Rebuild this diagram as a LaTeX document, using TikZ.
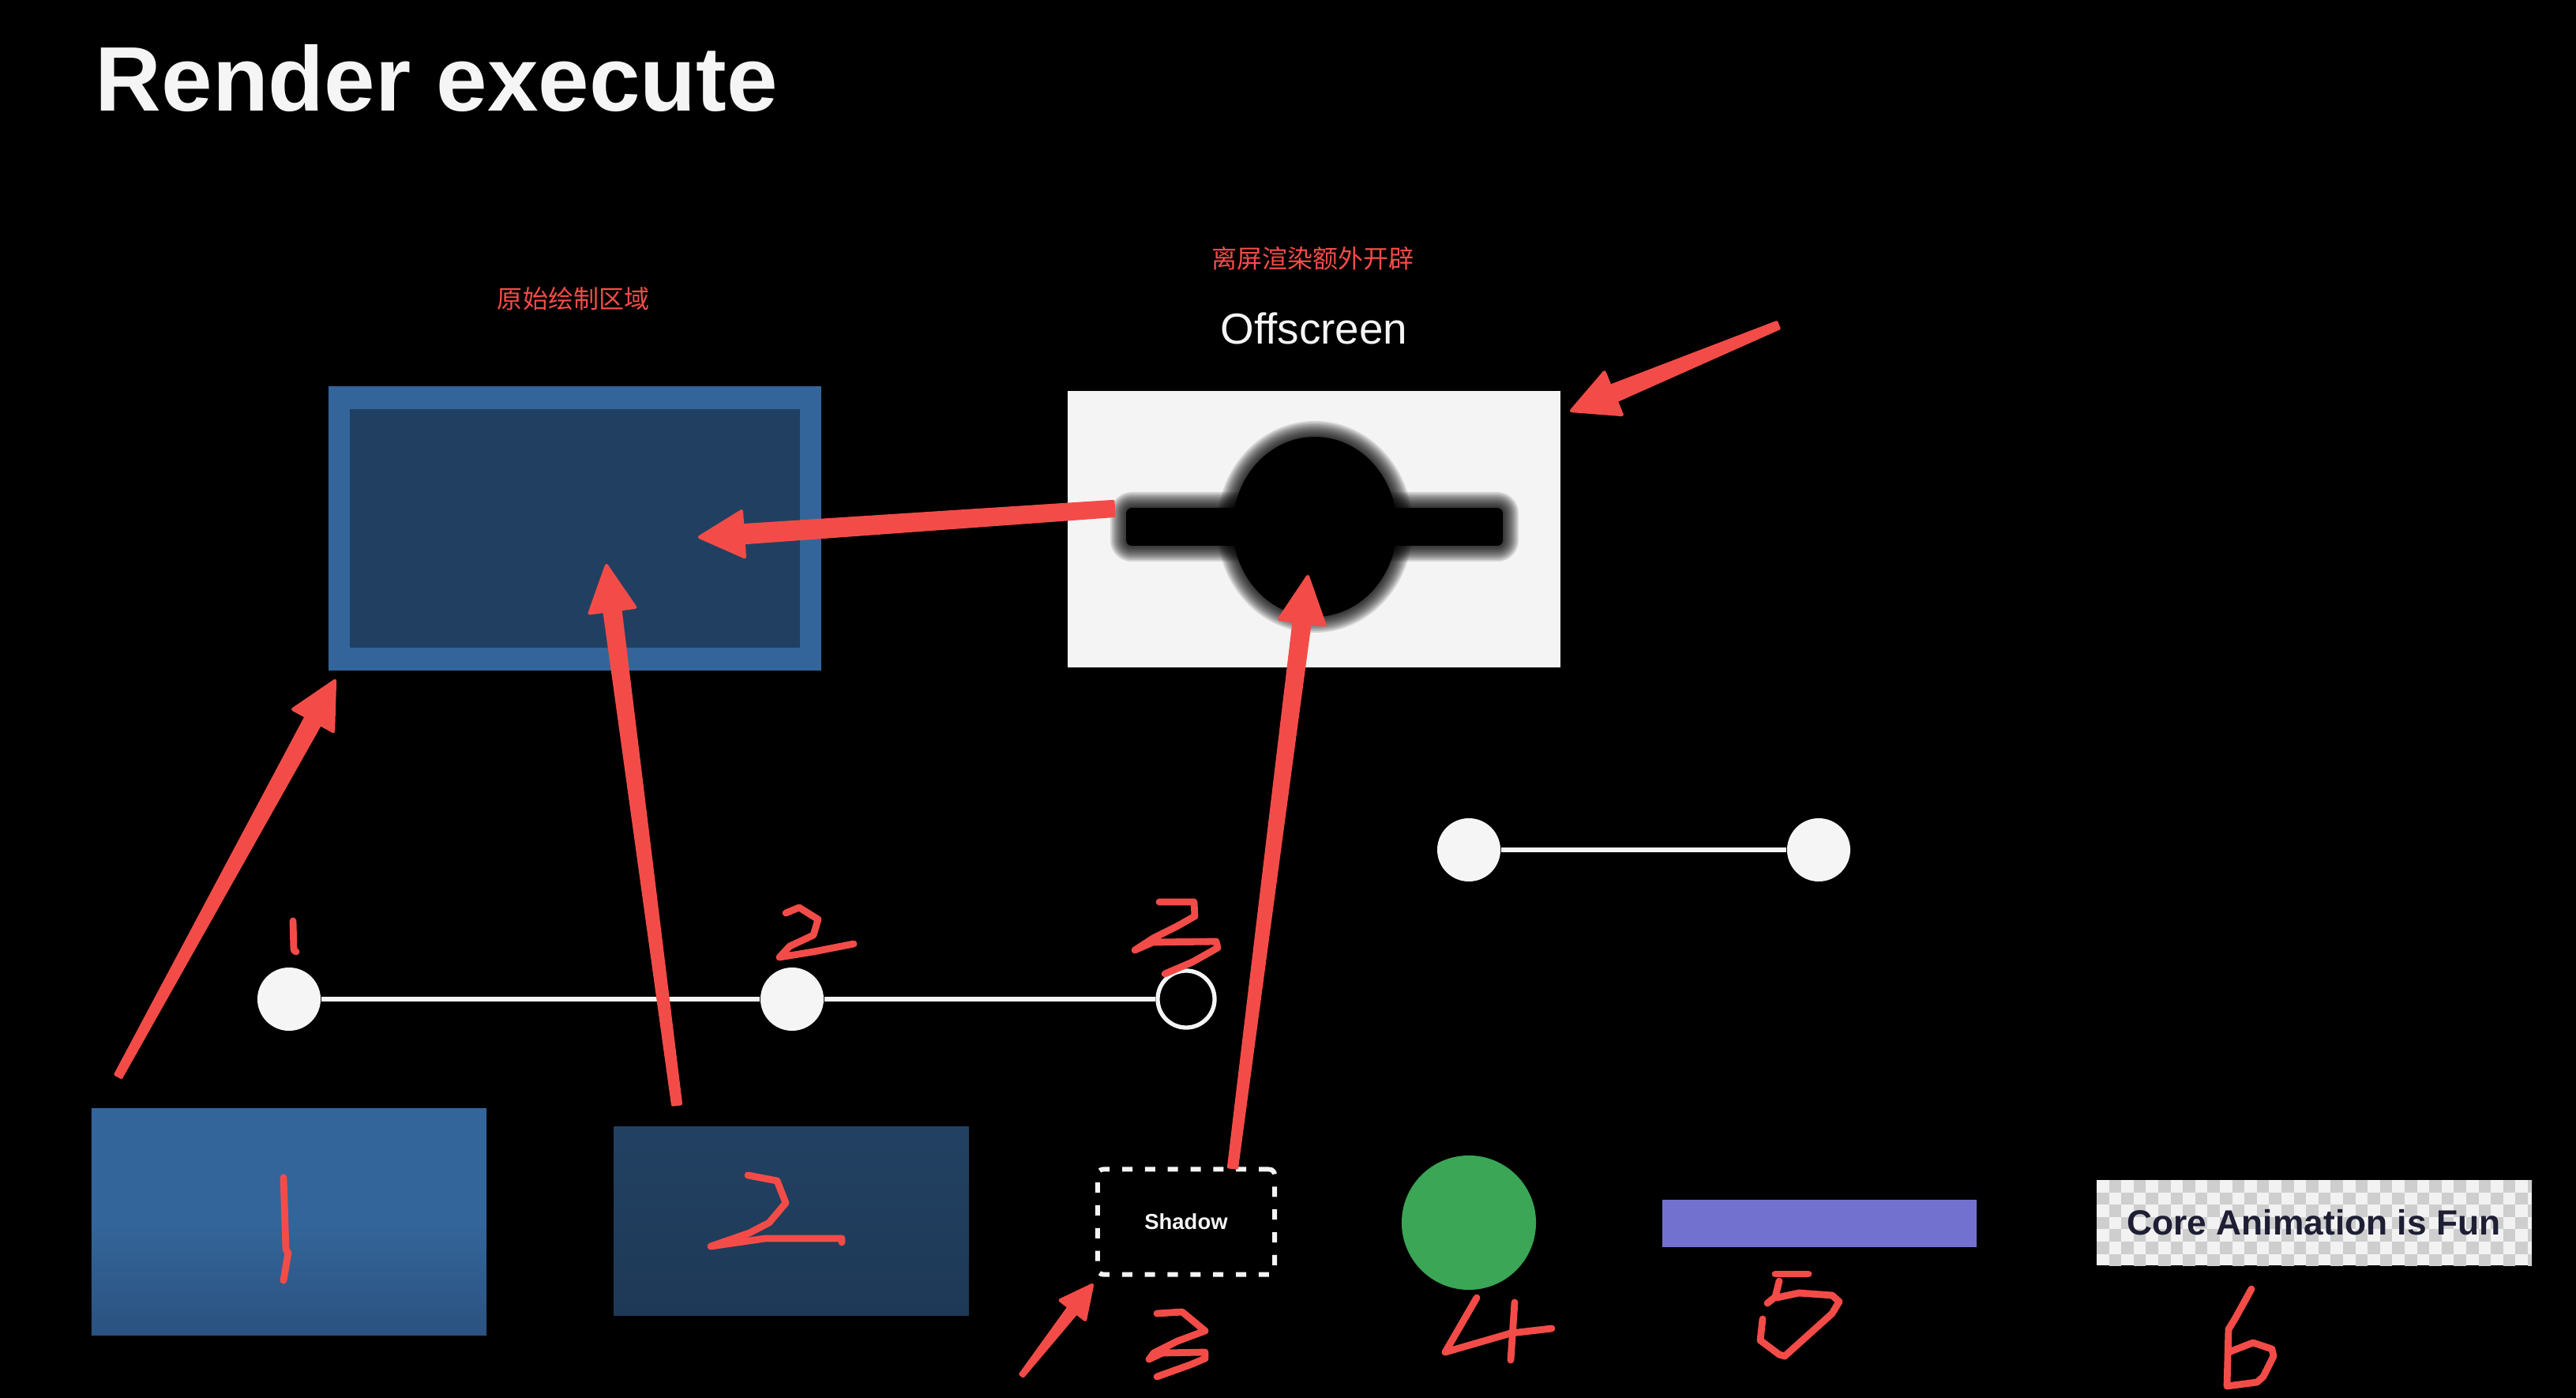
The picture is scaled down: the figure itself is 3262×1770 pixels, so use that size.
\documentclass[tikz,border=0pt]{standalone}
\usepackage{fontspec}
\setmainfont{Liberation Sans}
\newfontfamily\cjk{Noto Sans CJK SC}
\usetikzlibrary{calc}
\definecolor{redmark}{RGB}{243,76,72}
\definecolor{outerblue}{RGB}{52,101,154}
\definecolor{innerblue}{RGB}{33,64,97}
\definecolor{boxonetop}{RGB}{52,101,154}
\definecolor{boxonebot}{RGB}{43,82,128}
\definecolor{boxtwotop}{RGB}{34,65,98}
\definecolor{boxtwobot}{RGB}{30,57,87}
\definecolor{offwhite}{RGB}{244,244,244}
\definecolor{dotwhite}{RGB}{245,245,245}
\definecolor{greendot}{RGB}{58,166,86}
\definecolor{purplebar}{RGB}{115,113,207}
\definecolor{chkgray}{RGB}{206,206,206}
\definecolor{chkwhite}{RGB}{242,242,242}
\definecolor{navytext}{RGB}{30,30,52}
\tikzset{
  hand/.style={draw=redmark, line width=2.5pt, line cap=round, line join=round},
  dot/.style={circle, fill=dotwhite, inner sep=0pt, minimum size=0.80cm},
  ring/.style={circle, draw=dotwhite, line width=1.5pt, inner sep=0pt, minimum size=0.72cm},
  tline/.style={draw=dotwhite, line width=1.5pt},
  plainbox/.style={rectangle, inner sep=0pt},
}
% tail, tip, tail half width, neck half width, head half width, head length
\newcommand{\mkarrow}[6]{%
  \coordinate (aN) at ($(#2)!#6!(#1)$);
  \fill[redmark, draw=redmark, line width=1.2pt, line join=round]
    ($(#1)!#3!90:(#2)$) -- ($(aN)!#4!90:(#2)$) -- ($(aN)!#5!90:(#2)$) -- (#2)
    -- ($(aN)!#5!-90:(#2)$) -- ($(aN)!#4!-90:(#2)$) -- ($(#1)!#3!-90:(#2)$) -- cycle;}
\begin{document}
\begin{tikzpicture}[x=0.01cm, y=-0.01cm]
\fill[black] (0,0) rectangle (3262,1770);
\useasboundingbox (0,0) rectangle (3262,1770);

% title
\node[anchor=base west, inner sep=0pt, text=dotwhite, font=\bfseries\fontsize{33}{40}\selectfont] (title) at (120,141) {Render execute};

% labels
\node[inner sep=0pt, text=redmark, font=\cjk\fontsize{9.1}{11}\selectfont] (lblorig) at (726,378) {原始绘制区域};
\node[inner sep=0pt, text=redmark, font=\cjk\fontsize{9.1}{11}\selectfont] (lbloff) at (1662,327) {离屏渲染额外开辟};
\node[anchor=base, inner sep=0pt, text=dotwhite, font=\fontsize{15.6}{18}\selectfont] (offtitle) at (1664,436) {Offscreen};

% original drawing area
\node[plainbox, fill=outerblue, minimum width=6.24cm, minimum height=3.60cm] (orig) at (728,669) {};
\node[plainbox, fill=innerblue, minimum width=5.70cm, minimum height=3.02cm] (originner) at (728,669) {};

% offscreen box with blurred shape
\node[plainbox, fill=offwhite, minimum width=6.24cm, minimum height=3.50cm] (off) at (1664,670) {};
\foreach \d in {20,18,...,2}{
  \pgfmathsetmacro\rc{\d*0.2845+2}
  \fill[black, fill opacity=0.13] (1665,667) ellipse [x radius=104+\d, y radius=114+\d];
  \fill[black, fill opacity=0.13, rounded corners=\rc pt] (1426-\d,643-\d) rectangle (1903+\d,691+\d);
}
\fill[black] (1665,667) ellipse [x radius=104, y radius=114];
\fill[black, rounded corners=2pt] (1426,643) rectangle (1903,691);

% timeline 1
\node[dot] (t1) at (366,1265) {};
\node[dot] (t2) at (1003,1265) {};
\node[ring] (t3) at (1502,1265) {};
\draw[tline] (t1) -- (t2) -- (t3);

% timeline 2
\node[dot] (u1) at (1860,1076) {};
\node[dot] (u2) at (2303,1076) {};
\draw[tline] (u1) -- (u2);

% bottom row
\node[plainbox, top color=boxonetop, bottom color=boxonebot, middle color=boxonetop, minimum width=5.00cm, minimum height=2.87cm] (box1) at (366,1547) {};
\node[plainbox, top color=boxtwotop, bottom color=boxtwobot, minimum width=4.49cm, minimum height=2.39cm] (box2) at (1002,1546) {};
\node[plainbox, draw=dotwhite, line width=1.7pt, dash pattern=on 3.7pt off 4.5pt, rounded corners=2pt, minimum width=2.24cm, minimum height=1.33cm, text=dotwhite, font=\bfseries\fontsize{7.8}{9}\selectfont] (shadow) at (1502,1547) {Shadow};
\node[circle, fill=greendot, inner sep=0pt, minimum size=1.70cm] (green) at (1860,1548) {};
\node[plainbox, fill=purplebar, minimum width=3.98cm, minimum height=0.60cm] (bar) at (2304,1549) {};

% checkerboard box
\begin{scope}
\clip (2655,1494) rectangle (3206,1602);
\fill[chkwhite] (2655,1494) rectangle (3206,1602);
\foreach \i in {0,...,35}{\foreach \j in {0,...,6}{
  \pgfmathtruncatemacro\chk{mod(\i+\j,2)}
  \ifnum\chk=1 \fill[chkgray] ({2655+\i*15.6},{1494+\j*15.6}) rectangle ++(15.6,15.6); \fi
}}
\end{scope}
\node[plainbox, minimum width=5.51cm, minimum height=1.08cm, text=navytext, font=\bfseries\fontsize{12.6}{15}\selectfont] (core) at (2930,1548) {Core Animation is Fun};

% red arrows
\coordinate (a1s) at (150,1362); \coordinate (a1e) at (424,862);
\coordinate (a2s) at (857,1398); \coordinate (a2e) at (768,716);
\coordinate (a3s) at (1410,644); \coordinate (a3e) at (886,680);
\coordinate (a4s) at (1561,1478); \coordinate (a4e) at (1656,730);
\coordinate (a5s) at (2251,412); \coordinate (a5e) at (1990,520);
\coordinate (a6s) at (1294,1741); \coordinate (a6e) at (1383,1627);
\mkarrow{a1s}{a1e}{0.04cm}{0.10cm}{0.29cm}{0.57cm}
\mkarrow{a2s}{a2e}{0.05cm}{0.10cm}{0.29cm}{0.57cm}
\mkarrow{a3s}{a3e}{0.09cm}{0.11cm}{0.29cm}{0.55cm}
\mkarrow{a4s}{a4e}{0.05cm}{0.10cm}{0.29cm}{0.58cm}
\mkarrow{a5s}{a5e}{0.04cm}{0.10cm}{0.29cm}{0.57cm}
\mkarrow{a6s}{a6e}{0.02cm}{0.06cm}{0.20cm}{0.40cm}

% handwritten numbers
\draw[hand] (371,1166) -- (372,1203) -- (375,1205);
\draw[hand] (995,1156) -- (1012,1149) -- (1036,1164) -- (1030,1184) -- (1000,1198) -- (987,1212) -- (1030,1205) -- (1081,1195);
\draw[hand] (1468,1142) -- (1512,1142) -- (1513,1160) -- (1490,1173) -- (1460,1188) -- (1437,1203) -- (1460,1193) -- (1540,1192) -- (1542,1200) -- (1510,1218) -- (1475,1233);
\draw[hand] (359,1491) -- (362,1582) -- (365,1586) -- (359,1621);
\draw[hand] (947,1488) -- (984,1495) -- (995,1523) -- (974,1548) -- (949,1561) -- (900,1578) -- (969,1568) -- (1066,1568) -- (1066,1573);
\draw[hand] (1465,1663) -- (1497,1661) -- (1526,1685) -- (1491,1698) -- (1461,1713) -- (1455,1721) -- (1472,1713) -- (1526,1712) -- (1526,1720) -- (1507,1728) -- (1465,1743);
\draw[hand] (1870,1643) -- (1830,1712) -- (1913,1688) -- (1965,1682);
\draw[hand] (1918,1649) -- (1913,1722);
\draw[hand] (2248,1613) -- (2290,1613);
\draw[hand] (2253,1622) -- (2248,1642) -- (2238,1650);
\draw[hand] (2250,1643) -- (2278,1637) -- (2320,1640) -- (2329,1648) -- (2320,1663) -- (2260,1717) -- (2253,1715) -- (2229,1697) -- (2232,1670);
\draw[hand] (2851,1632) -- (2830,1670) -- (2822,1683) -- (2820,1755) -- (2858,1750) -- (2866,1743) -- (2879,1717) -- (2877,1708) -- (2853,1700) -- (2822,1712);
\end{tikzpicture}
\end{document}
